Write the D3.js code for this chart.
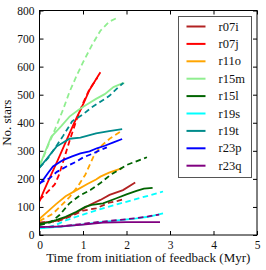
<!DOCTYPE html>
<html>
<head>
<meta charset="utf-8">
<script src="https://cdn.jsdelivr.net/npm/d3@7"></script>
<style>
  body { margin: 0; background: #fff; }
  svg text { font-family: "Liberation Serif", "Times New Roman", serif !important; }
</style>
</head>
<body>
<div class="vis"></div>
<script>
// [time (Myr), number of stars]
const r07iSolid = [[0,42],[0.38,50],[0.6,62],[0.85,80],[1.15,107],[1.4,125],[1.61,143],[1.92,160],[2.2,187]];
const r07iDash = [[0,45],[0.4,48],[0.7,65],[1.0,87],[1.3,95],[1.6,115],[1.8,122],[1.95,128]];
const r07jSolid = [[0,120],[0.1,157],[0.2,192],[0.4,260],[0.6,330],[0.8,400],[1.0,465],[1.15,517],[1.3,555],[1.4,580]];
const r07jDash = [[0,125],[0.12,143],[0.35,180],[0.45,215],[0.6,290],[0.7,340],[0.85,410],[1.0,470],[1.15,520],[1.33,560]];
const r11oSolid = [[0,58],[0.2,85],[0.38,110],[0.6,138],[0.85,160],[1.1,182],[1.3,198],[1.4,208],[1.6,222],[1.9,238]];
const r11oDash = [[0,50],[0.3,75],[0.5,105],[0.7,137],[0.9,178],[1.05,214],[1.24,279],[1.4,315],[1.63,345],[1.86,368]];
const r15mSolid = [[0,244],[0.1,285],[0.27,350],[0.5,388],[0.69,422],[0.9,446],[1.08,464],[1.3,485],[1.5,502],[1.7,527],[1.9,540],[1.95,540]];
const r15mDash = [[0,250],[0.1,280],[0.2,320],[0.3,355],[0.54,446],[0.69,510],[0.86,570],[1.0,615],[1.2,675],[1.4,728],[1.6,760],[1.8,775]];
const r15lSolid = [[0,40],[0.2,45],[0.38,53],[0.6,65],[0.85,83],[1.05,100],[1.2,107],[1.46,113],[1.77,131],[2.0,145],[2.23,157],[2.4,165],[2.6,168]];
const r15lDash = [[0,35],[0.25,45],[0.46,71],[0.69,113],[0.92,140],[1.17,160],[1.4,185],[1.63,214],[2.01,250],[2.47,277]];
const r19sSolid = [[0,24],[0.5,30],[1.0,38],[1.46,47],[1.8,52],[2.23,59],[2.5,65],[2.84,77]];
const r19sDash = [[0,25],[0.2,28],[0.38,36],[0.6,52],[0.85,65],[1.15,80],[1.46,95],[1.8,110],[2.15,125],[2.5,140],[2.84,155]];
const r19tSolid = [[0,240],[0.15,268],[0.39,315],[0.69,343],[0.94,347],[1.3,362],[1.6,370],[1.9,377]];
const r19tDash = [[0,240],[0.2,275],[0.4,320],[0.55,355],[0.75,405],[1.0,430],[1.2,455],[1.4,475],[1.6,495],[1.8,525],[1.93,542]];
const r23pSolid = [[0,182],[0.1,200],[0.2,222],[0.31,244],[0.54,267],[0.75,280],[0.94,291],[1.15,298],[1.32,309],[1.5,318],[1.7,330],[1.9,342]];
const r23pDash = [[0,185],[0.23,202],[0.4,225],[0.62,244],[0.85,262],[1.01,277],[1.24,291],[1.4,303],[1.55,312]];
const r23qSolid = [[0,28],[0.5,31],[1.0,37],[1.46,44],[2.0,46],[2.77,46]];
const r23qDash = [[0,28],[0.5,31],[1.0,40],[1.46,48],[1.8,53],[2.23,60],[2.5,66],[2.75,73]];

const runNames = ["r07i", "r07j", "r11o", "r15m", "r15l", "r19s", "r19t", "r23p", "r23q"];
const runColors = ["#b22222", "#ff0000", "#ffa500", "#90ee90", "#006400", "#00ffff", "#008b8b", "#0000ff", "#800080"];
const solidRuns = [r07iSolid, r07jSolid, r11oSolid, r15mSolid, r15lSolid, r19sSolid, r19tSolid, r23pSolid, r23qSolid];
const dashRuns = [r07iDash, r07jDash, r11oDash, r15mDash, r15lDash, r19sDash, r19tDash, r23pDash, r23qDash];

const xTicks = [0, 1, 2, 3, 4, 5];
const yTicks = [0, 100, 200, 300, 400, 500, 600, 700, 800];

const font = "'Liberation Serif', 'Times New Roman', serif";
const margin = { top: 10.5, right: 9, bottom: 35, left: 39.5 };
const W = 266, H = 270;
const width = W - margin.left - margin.right;
const height = H - margin.top - margin.bottom;

const svg = d3.select(".vis").append("svg")
  .attr("width", W).attr("height", H);
const g = svg.append("g")
  .attr("transform", "translate(" + margin.left + "," + margin.top + ")");

const x = d3.scaleLinear().domain([0, 5]).range([0, width]);
const y = d3.scaleLinear().domain([0, 800]).range([height, 0]);

g.append("defs").append("clipPath").attr("id", "clip")
  .append("rect").attr("width", width).attr("height", height);

const line = d3.line().x(d => x(d[0])).y(d => y(d[1]));

const plot = g.append("g").attr("clip-path", "url(#clip)");
for (let i = 0; i < runNames.length; i++) {
  plot.append("path").datum(dashRuns[i])
    .attr("fill", "none").attr("stroke", runColors[i])
    .attr("stroke-width", 1.8).attr("stroke-dasharray", "5.5,3.5")
    .attr("d", line);
  plot.append("path").datum(solidRuns[i])
    .attr("fill", "none").attr("stroke", runColors[i])
    .attr("stroke-width", 1.8)
    .attr("d", line);
}

// axes with inward ticks on all sides
const styleAxis = (sel) => {
  sel.attr("font-family", font);
  sel.select(".domain").remove();
  sel.selectAll(".tick line").attr("stroke", "#000");
  sel.selectAll("text").attr("font-size", 11.5).attr("fill", "#111");
};
g.append("g").attr("transform", "translate(0," + height + ")")
  .call(d3.axisBottom(x).tickValues(xTicks).tickSize(-4).tickPadding(6).tickFormat(d3.format("d")))
  .call(styleAxis);
g.append("g")
  .call(d3.axisTop(x).tickValues(xTicks).tickSize(-4).tickFormat(""))
  .call(styleAxis);
g.append("g")
  .call(d3.axisLeft(y).tickValues(yTicks).tickSize(-4).tickPadding(5).tickFormat(d3.format("d")))
  .call(styleAxis);
g.append("g").attr("transform", "translate(" + width + ",0)")
  .call(d3.axisRight(y).tickValues(yTicks).tickSize(-4).tickFormat(""))
  .call(styleAxis);

g.append("rect").attr("width", width).attr("height", height)
  .attr("fill", "none").attr("stroke", "#000").attr("stroke-width", 1);

g.append("text")
  .attr("transform", "translate(" + (-29) + "," + (height / 2) + ") rotate(-90)")
  .attr("text-anchor", "middle").attr("font-size", 13).attr("font-family", font)
  .attr("fill", "#111")
  .text("No. stars");
g.append("text")
  .attr("x", width / 2).attr("y", height + 27)
  .attr("text-anchor", "middle").attr("font-size", 13).attr("font-family", font)
  .attr("fill", "#111")
  .text("Time from initiation of feedback (Myr)");

// legend
const legend = svg.append("g").attr("transform", "translate(178.5,16.5)");
legend.append("rect").attr("width", 73).attr("height", 161)
  .attr("fill", "#fff").attr("stroke", "#555").attr("stroke-width", 1);
runNames.forEach((name, i) => {
  const ly = 10 + i * 17.4;
  legend.append("line").attr("x1", 8).attr("x2", 27).attr("y1", ly).attr("y2", ly)
    .attr("stroke", runColors[i]).attr("stroke-width", 2);
  legend.append("text").attr("x", 40).attr("y", ly + 4)
    .attr("font-size", 12.5).attr("font-family", font).attr("fill", "#111")
    .text(name);
});
</script>
</body>
</html>
